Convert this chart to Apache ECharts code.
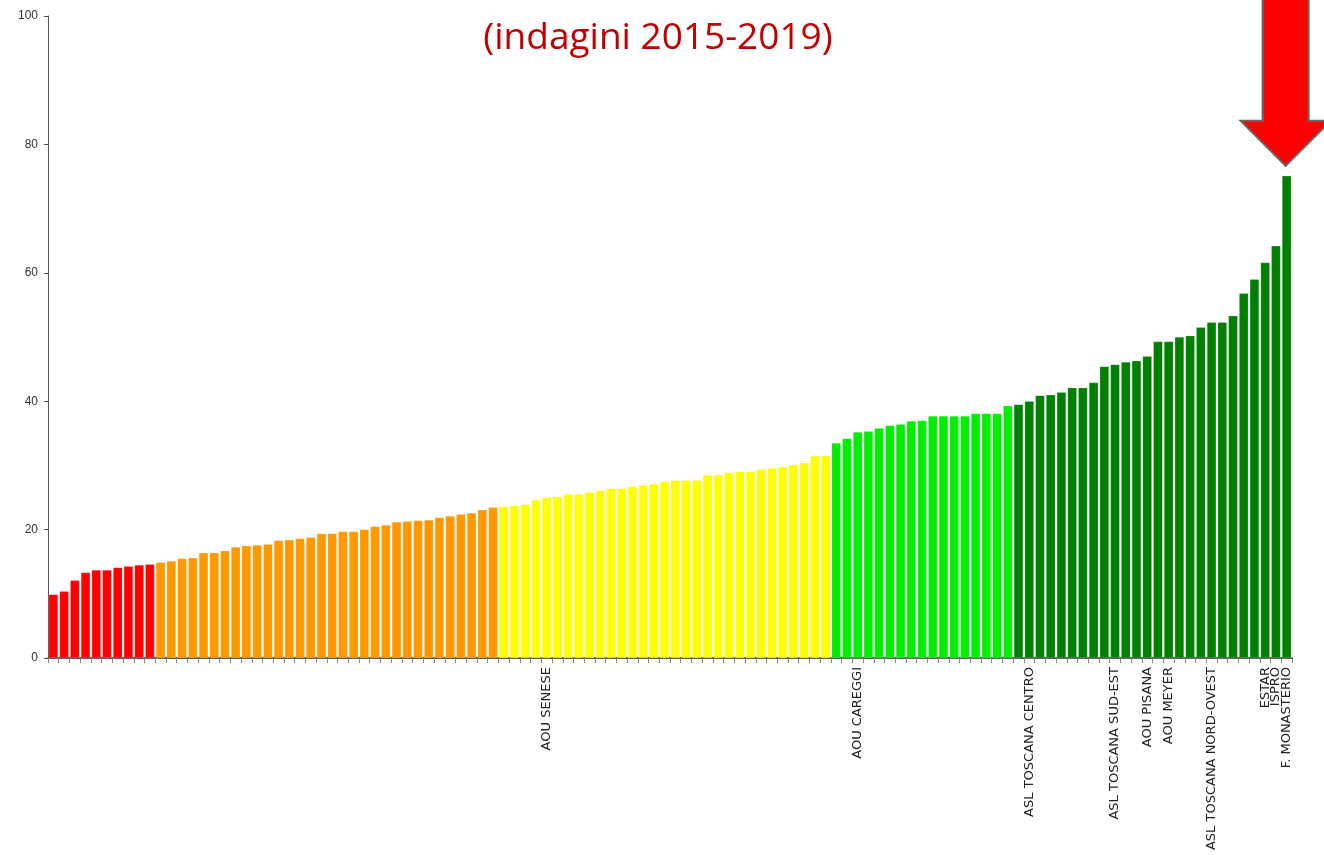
<!DOCTYPE html>
<html>
<head>
<meta charset="utf-8">
<title>indagini 2015-2019</title>
<script src="https://cdn.jsdelivr.net/npm/echarts@6/dist/echarts.min.js"></script>
<style>
    html, body {margin: 0; padding: 0; background: #fff;}
    #main {width: 1324px; height: 855px;}
</style>
</head>
<body>
<div id="main"></div>
<script>
// valori, ordinati (116 strutture)
var redValues = [9.9, 10.4, 12.1, 13.3, 13.7, 13.7, 14.1, 14.3, 14.5, 14.6];
var orangeValues = [14.9, 15.1, 15.5, 15.6, 16.4, 16.4, 16.7, 17.3, 17.5, 17.6,
    17.7, 18.3, 18.4, 18.6, 18.8, 19.4, 19.4, 19.7, 19.7, 20.0,
    20.5, 20.7, 21.2, 21.3, 21.4, 21.5, 21.9, 22.1, 22.4, 22.6,
    23.1, 23.5];
var yellowValues = [23.6, 23.7, 23.9, 24.6, 25.0, 25.1, 25.5, 25.5, 25.8, 26.1,
    26.4, 26.4, 26.7, 26.9, 27.1, 27.5, 27.7, 27.7, 27.7, 28.5,
    28.5, 28.9, 29.0, 29.1, 29.4, 29.6, 29.8, 30.1, 30.4, 31.5,
    31.5];
var lightGreenValues = [33.5, 34.2, 35.2, 35.3, 35.8, 36.2, 36.4, 36.9, 37.0, 37.7,
    37.7, 37.7, 37.7, 38.1, 38.1, 38.1, 39.3];
var darkGreenValues = [39.5, 40.0, 40.9, 41.0, 41.4, 42.1, 42.1, 42.9, 45.4, 45.7,
    46.1, 46.3, 47.0, 49.3, 49.3, 50.0, 50.2, 51.5, 52.3, 52.3,
    53.3, 56.8, 59.0, 61.6, 64.2, 75.1];

// etichette: indice della barra -> nome
var labelIndex = [46, 75, 91, 99, 102, 104, 108, 113, 114, 115];
var labelNames = ['AOU SENESE', 'AOU CAREGGI', 'ASL TOSCANA CENTRO', 'ASL TOSCANA SUD-EST',
    'AOU PISANA', 'AOU MEYER', 'ASL TOSCANA NORD-OVEST', 'ESTAR', 'ISPRO', 'F. MONASTERIO'];

var yTicks = [0, 20, 40, 60, 80, 100];

var groups = [
    {values: redValues, color: '#ff0000'},
    {values: orangeValues, color: '#ff9900'},
    {values: yellowValues, color: '#ffff00'},
    {values: lightGreenValues, color: '#00ee00'},
    {values: darkGreenValues, color: '#008000'}
];

var seriesData = [];
groups.forEach(function (g) {
    g.values.forEach(function (v) {
        seriesData.push({value: v, itemStyle: {color: g.color}});
    });
});

var categories = seriesData.map(function (d, i) {
    var k = labelIndex.indexOf(i);
    return k >= 0 ? labelNames[k] : ' '.repeat(i + 1);
});

var myChart = echarts.init(document.getElementById('main'));

var option = {
    animation: false,
    backgroundColor: '#ffffff',
    title: {
        text: '(indagini 2015-2019)',
        left: 653,
        top: 15,
        textAlign: 'center',
        textStyle: {
            color: '#c00000',
            fontFamily: 'Open Sans',
            fontWeight: 'normal',
            fontSize: 37
        }
    },
    grid: {
        left: 48,
        top: 16,
        width: 1244,
        height: 642,
        containLabel: false
    },
    xAxis: {
        type: 'category',
        data: categories,
        axisLine: {
            lineStyle: {color: '#222', width: 1.5}
        },
        axisTick: {
            show: true,
            interval: 0,
            length: 5,
            lineStyle: {color: '#888'}
        },
        axisLabel: {
            interval: 0,
            rotate: 90,
            margin: 9,
            color: '#222',
            fontFamily: 'DejaVu Sans',
            fontSize: 13,
            formatter: function (v) {
                return v.trim();
            }
        },
        splitLine: {show: false}
    },
    yAxis: {
        type: 'value',
        min: yTicks[0],
        max: yTicks[yTicks.length - 1],
        interval: yTicks[1] - yTicks[0],
        axisLine: {
            show: true,
            lineStyle: {color: '#555'}
        },
        axisTick: {
            show: true,
            length: 4,
            lineStyle: {color: '#555'}
        },
        axisLabel: {
            color: '#333',
            fontFamily: 'Liberation Sans',
            fontSize: 12,
            margin: 10
        },
        splitLine: {show: false}
    },
    series: [
        {
            type: 'bar',
            barCategoryGap: '14%',
            itemStyle: {
                borderColor: 'rgba(255,255,255,0.35)',
                borderWidth: 0.5
            },
            data: seriesData
        }
    ]
};
myChart.setOption(option);

// freccia rossa sopra l'ultima barra
var last = seriesData.length - 1;
var tip = myChart.convertToPixel({gridIndex: 0}, [last, seriesData[last].value]);
var tx = tip[0] - 1;
var ty = tip[1] - 10;
myChart.setOption({
    graphic: [
        {
            type: 'polygon',
            shape: {
                points: [
                    [tx - 23, -5], [tx + 23, -5], [tx + 23, ty - 45],
                    [tx + 45, ty - 45], [tx, ty], [tx - 45, ty - 45], [tx - 23, ty - 45]
                ]
            },
            style: {
                fill: '#ff0000',
                stroke: '#666666',
                lineWidth: 2
            },
            z: 10
        }
    ]
});
</script>
</body>
</html>
